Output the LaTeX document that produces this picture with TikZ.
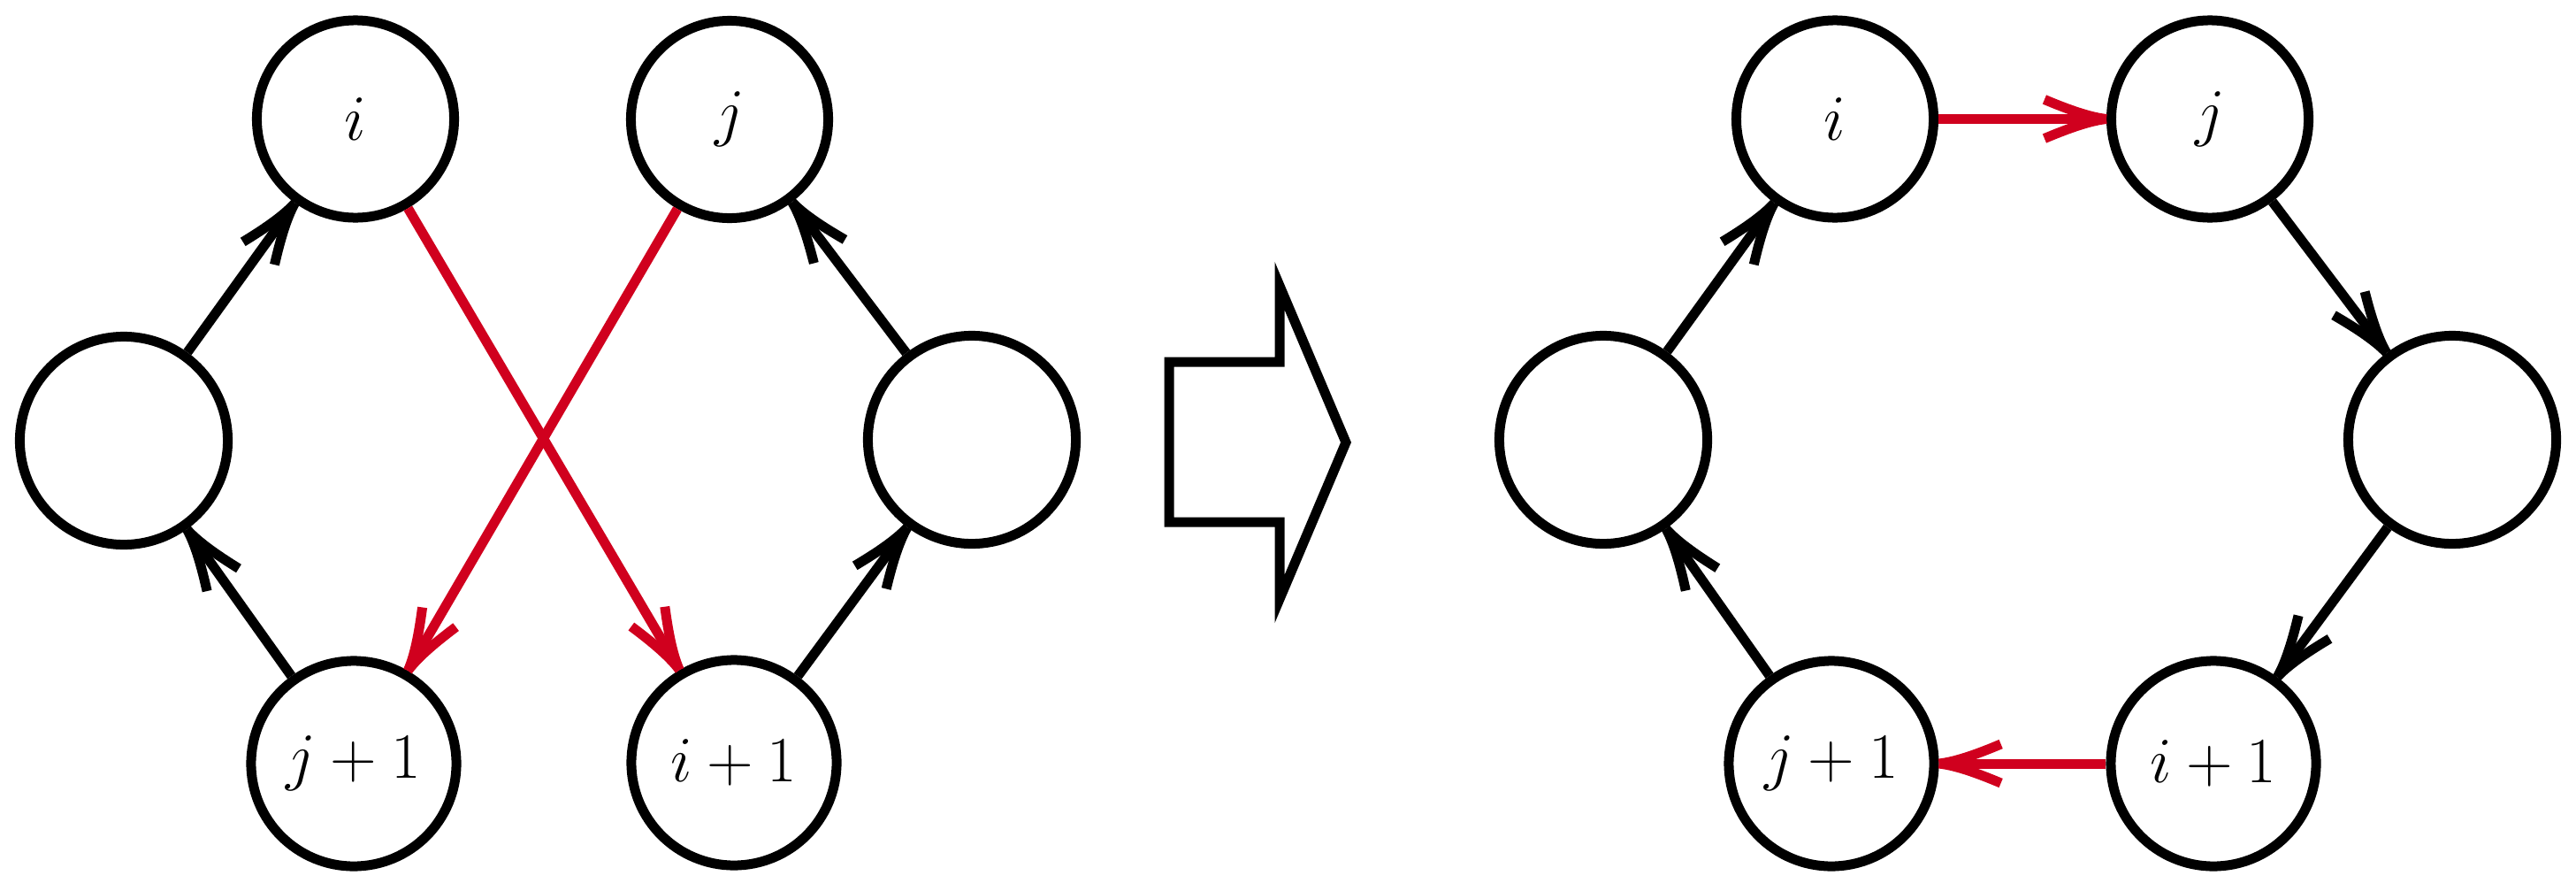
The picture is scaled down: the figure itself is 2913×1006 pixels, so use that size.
\documentclass[tikz,border=0pt]{standalone}
\usetikzlibrary{arrows.meta}
\definecolor{myred}{RGB}{208,0,30}
\pgfdeclarearrow{
  name = CurvedBarb,
  parameters = {\the\pgfarrowlength,\the\pgfarrowwidth},
  setup code = {
    \pgfarrowssettipend{0pt}
    \pgfarrowssetlineend{-0.5\pgflinewidth}
    \pgfarrowssetbackend{-\pgfarrowlength}
    \pgfarrowsupperhullpoint{-\pgfarrowlength}{0.5\pgfarrowwidth}
    \pgfarrowsupperhullpoint{0pt}{0pt}
    \pgfarrowssavethe\pgfarrowlength
    \pgfarrowssavethe\pgfarrowwidth
  },
  drawing code = {
    \pgfsetdash{}{0pt}
    \pgfsetbuttcap
    \pgfpathmoveto{\pgfqpoint{-\pgfarrowlength}{0.5\pgfarrowwidth}}
    \pgfpathcurveto{\pgfqpoint{-0.7\pgfarrowlength}{0.3\pgfarrowwidth}}
                   {\pgfqpoint{-0.3\pgfarrowlength}{0.05\pgfarrowwidth}}
                   {\pgfqpoint{0pt}{0pt}}
    \pgfpathmoveto{\pgfqpoint{-\pgfarrowlength}{-0.5\pgfarrowwidth}}
    \pgfpathcurveto{\pgfqpoint{-0.7\pgfarrowlength}{-0.3\pgfarrowwidth}}
                   {\pgfqpoint{-0.3\pgfarrowlength}{-0.05\pgfarrowwidth}}
                   {\pgfqpoint{0pt}{0pt}}
    \pgfusepathqstroke
  },
  defaults = {length=7mm, width=4.4mm}
}
\begin{document}
\begin{tikzpicture}[x=0.01cm,y=-0.01cm,
  vtx/.style={circle,draw,line width=0.11cm,inner sep=0pt,font=\huge},
  topv/.style={vtx,minimum size=2.23cm},
  midv/.style={vtx,minimum size=2.35cm},
  botv/.style={vtx,minimum size=2.32cm},
  edgeline/.style={line width=0.11cm,-{CurvedBarb[length=0.7cm,width=0.44cm]}},
  redge/.style={edgeline,draw=myred},
  bigarrow/.style={line width=0.11cm,line join=miter},
]
\useasboundingbox (0,0) rectangle (2913,1006);
% left graph
\node[topv] (li) at (402,134.5) {$i$};
\node[topv] (lj) at (825,135) {$j$};
\node[midv] (ll) at (140,498) {};
\node[midv] (lr) at (1099,497) {};
\node[botv] (lj1) at (400,863) {$j+1$};
\node[botv] (li1) at (830,862) {$i+1$};
\draw[edgeline] (ll) -- (li);
\draw[edgeline] (lj1) -- (ll);
\draw[edgeline] (lr) -- (lj);
\draw[edgeline] (li1) -- (lr);
\draw[redge] (li) -- (li1);
\draw[redge] (lj) -- (lj1);
% big arrow
\draw[bigarrow] (1322,409) -- (1447,409) -- (1447,323) -- (1522,500) -- (1447,677) -- (1447,590) -- (1322,590) -- cycle;
% right graph
\node[topv] (ri) at (2075,134.5) {$i$};
\node[topv] (rj) at (2499,134.5) {$j$};
\node[midv] (rl) at (1813,497) {};
\node[midv] (rr) at (2773,497) {};
\node[botv] (rj1) at (2071,863) {$j+1$};
\node[botv] (ri1) at (2503,863) {$i+1$};
\draw[edgeline] (rl) -- (ri);
\draw[redge] (ri) -- (rj);
\draw[edgeline] (rj) -- (rr);
\draw[edgeline] (rr) -- (ri1);
\draw[redge] (ri1) -- (rj1);
\draw[edgeline] (rj1) -- (rl);
\end{tikzpicture}
\end{document}
